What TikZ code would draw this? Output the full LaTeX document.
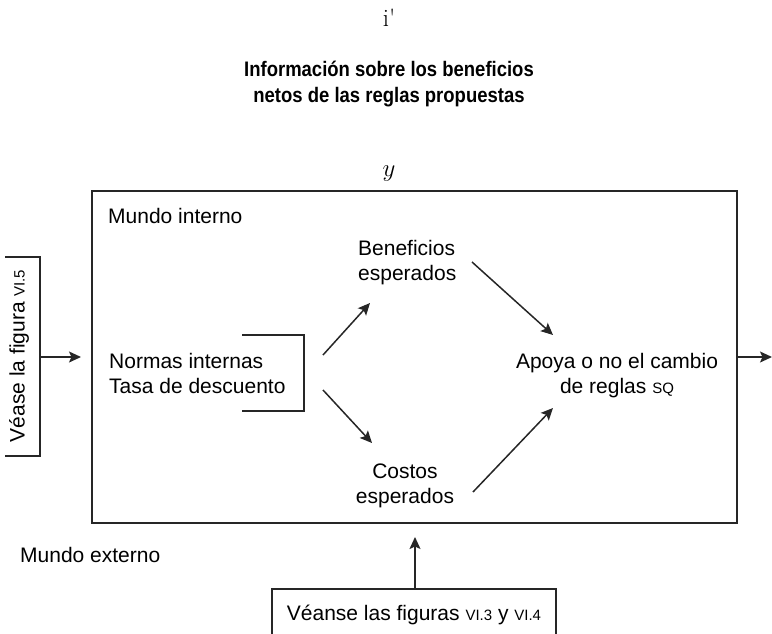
\documentclass[tikz,border=0pt]{standalone}
\usepackage{fontspec}
\setmainfont{Liberation Sans}
\newfontfamily\lmfont{Latin Modern Roman}
\newfontfamily\titlefont[FakeStretch=0.88]{Liberation Sans}
\usetikzlibrary{arrows.meta}
\newcommand{\smc}[1]{{\fontsize{15}{15}\selectfont #1}}
\tikzset{
  txt/.style={inner sep=0pt, font=\fontsize{21}{25}\selectfont, align=left},
  ctxt/.style={inner sep=0pt, font=\fontsize{21}{25}\selectfont, align=center},
  ln/.style={line width=1.5pt, draw=black!85},
  arr/.style={ln, -{Stealth[length=12pt,width=11pt,inset=2.5pt]}},
}
\begin{document}
\begin{tikzpicture}[x=1pt,y=-1pt]
\useasboundingbox (0,0) rectangle (772,633);
% top texts
\node[inner sep=0pt, font=\lmfont\fontsize{25}{25}\selectfont] (ip) at (389,18) {i'};
\node[inner sep=0pt, align=center, font=\titlefont\bfseries\fontsize{21}{26}\selectfont] (title) at (389,84) {Información sobre los beneficios\\netos de las reglas propuestas};
\node[inner sep=0pt, font=\fontsize{25}{25}\selectfont] (yy) at (389,174) {$y$};
% main box
\draw[ln] (92,191) rectangle (737,523);
\coordinate (mainR) at (737,357);
\coordinate (outR) at (772,357);
\coordinate (mainB) at (415,537);
\node[txt, anchor=base west] (mi) at (108,223) {Mundo interno};
\node[txt, anchor=base west] (ben) at (358,280) {Beneficios\\esperados};
\node[txt, anchor=base west] (norm) at (109,393) {Normas internas\\Tasa de descuento};
\node[ctxt, anchor=base] (apoya) at (617,393) {Apoya o no el cambio\\de reglas \smc{SQ}};
\node[ctxt, anchor=base] (cost) at (405,503) {Costos\\esperados};
\node[txt, anchor=base west] (me) at (20,562) {Mundo externo};
% bracket
\draw[ln] (242,335) -- (304,335) -- (304,411) -- (242,411);
\coordinate (brU) at (323,355);
\coordinate (brD) at (323,390);
\coordinate (benT) at (370,303);
\coordinate (costT) at (372,443);
\draw[arr] (brU) -- (benT);
\draw[arr] (brD) -- (costT);
\coordinate (benS) at (472,262);
\coordinate (apU) at (553,335);
\coordinate (costS) at (473,492);
\coordinate (apD) at (553,408);
\draw[arr] (benS) -- (apU);
\draw[arr] (costS) -- (apD);
% left box
\draw[ln] (5,257) -- (40,257) -- (40,456) -- (5,456);
\node[inner sep=0pt, rotate=90, font=\fontsize{21}{25}\selectfont] (vease) at (19,356) {Véase la figura \smc{VI.5}};
\coordinate (lbR) at (40,357);
\coordinate (mainL) at (81,357);
\draw[arr] (lbR) -- (mainL);
\draw[arr] (mainR) -- (outR);
% bottom box
\draw[ln] (272,640) -- (272,589) -- (556,589) -- (556,640);
\node[inner sep=0pt, anchor=base, font=\fontsize{21}{25}\selectfont] (veanse) at (414,620) {Véanse las figuras \smc{VI.3} y \smc{VI.4}};
\coordinate (bbT) at (415,589);
\draw[arr] (bbT) -- (mainB);
\end{tikzpicture}
\end{document}
